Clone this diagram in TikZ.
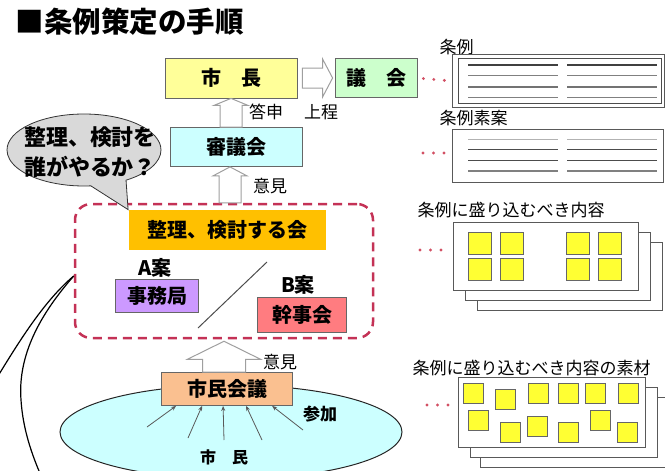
\documentclass[tikz,border=0pt]{standalone}
\usepackage{fontspec}
\setmainfont{Noto Sans CJK JP}
\usetikzlibrary{shapes.geometric, shapes.callouts, arrows.meta, calc}
\definecolor{kiiro}{RGB}{255,255,153}
\definecolor{midori}{RGB}{204,255,204}
\definecolor{mizu}{RGB}{204,255,255}
\definecolor{gold}{RGB}{255,192,0}
\definecolor{murasaki}{RGB}{204,153,255}
\definecolor{momo}{RGB}{255,124,128}
\definecolor{peach}{RGB}{250,192,144}
\definecolor{akaten}{RGB}{196,50,86}
\definecolor{dotred}{RGB}{210,80,100}
\definecolor{fusenyellow}{RGB}{255,255,51}

\newcommand{\blockup}[5]{%
  \draw[hollow] let \p1=(#1), \p2=(#2) in
    (\x2,\y2) -- (\x2+#4,\y2-#5) -- (\x2+#3,\y2-#5) -- (\x2+#3,\y1)
    -- (\x2-#3,\y1) -- (\x2-#3,\y2-#5) -- (\x2-#4,\y2-#5) -- cycle;}

\begin{document}
\begin{tikzpicture}[x=1pt, y=-1pt,
    box/.style={draw=gray!80!black, line width=0.8pt, inner sep=0pt,
                font=\bfseries\fontsize{20}{24}\selectfont},
    small/.style={font=\fontsize{17}{20}\selectfont},
    boldsmall/.style={font=\bfseries\fontsize{17}{20}\selectfont},
    hollow/.style={draw=gray!75, fill=white, line width=1pt},
    doc/.style={draw=gray!70!black, fill=white, line width=0.8pt},
    page/.style={draw=gray!70!black, fill=white, line width=0.8pt},
    fusen/.style={draw=gray!80!black, fill=fusenyellow, line width=0.8pt},
    dots/.style={draw=dotred, line width=3.2pt, line cap=round,
                 dash pattern=on 0pt off 10.5pt},
    citarrow/.style={draw=gray!70!black, line width=0.8pt,
                     -{Stealth[length=5pt,width=4pt]}}]
    \useasboundingbox (0,0) rectangle (665,471);

    % Title
    \node[anchor=west, font=\bfseries\fontsize{28.5}{32}\selectfont] (title) at (12,22) {■条例策定の手順};

    % Citizens
    \node[ellipse, draw=gray!30!black, line width=1pt, fill=mizu,
          minimum width=342pt, minimum height=94pt] (shimin) at (231,432) {};
    \node[boldsmall, font=\bfseries\fontsize{16}{20}\selectfont] (shiminlbl) at (224,457) {市　民};

    % Upper flow
    \node[box, fill=kiiro, minimum width=132pt, minimum height=40pt] (mayor) at (231,78) {市　長};
    \node[box, fill=midori, minimum width=82pt, minimum height=39pt] (gikai) at (376,78) {議　会};
    \node[box, fill=mizu, minimum width=132pt, minimum height=39pt] (shingi) at (236,147) {審議会};

    % Dashed group
    \node[draw=akaten, line width=2.5pt, dash pattern=on 9pt off 6pt, rounded corners=16pt,
          minimum width=298pt, minimum height=134pt] (kentou) at (224,271) {};
    \node[box, draw=none, fill=gold, minimum width=197pt, minimum height=40pt] (seiri) at (227,230) {整理、検討する会};
    \node[box, draw=none, fill=none] (aan) at (155,268) {A案};
    \node[box, fill=murasaki, minimum width=83pt, minimum height=33pt] (jimu) at (157,296) {事務局};
    \node[box, draw=none, fill=none] (ban) at (298,285) {B案};
    \node[box, fill=momo, minimum width=89pt, minimum height=35pt] (kanji) at (302,315) {幹事会};
    \draw[gray!60!black, line width=1pt] (267,262) -- (198,328);

    % Speech bubble
    \node[ellipse callout, draw=gray!40!black, fill=gray!30, line width=0.8pt,
          minimum width=154pt, minimum height=72pt, inner sep=0pt,
          callout absolute pointer={(seiri.north west)}, callout pointer arc=28] (bubble) at (84,150) {};
    \node[align=center, font=\bfseries\fontsize{22}{30}\selectfont] (bubbletxt) at (90,152) {整理、検討を\\誰がやるか？};

    % Citizens' council
    \node[box, fill=peach, minimum width=131pt, minimum height=33pt] (kaigi) at (227,389) {市民会議};
    \foreach \sx/\sy/\ex in {147/427/15, 188/438/41, 224/440/62, 262/440/85, 303/430/111}
        \draw[citarrow] (\sx,\sy) -- ($(kaigi.south west)+(\ex,0)$);
    \node[boldsmall] (sanka) at (320,414) {参加};

    % Hollow arrows
    \blockup{shingi.north}{mayor.south}{11pt}{17pt}{7pt}
    \blockup{kentou.north}{[xshift=-6pt]shingi.south}{11pt}{17pt}{9pt}
    \blockup{kaigi.north}{[yshift=-2pt]kentou.south}{21.5pt}{36.5pt}{18pt}
    \draw[hollow] let \p1=(mayor.east), \p2=(gikai.west) in
        (\x2-2pt,\y1) -- (\x2-12pt,\y1+19pt) -- (\x2-12pt,\y1+10pt) -- (\x1+5pt,\y1+10pt)
        -- (\x1+5pt,\y1-10pt) -- (\x2-12pt,\y1-10pt) -- (\x2-12pt,\y1-19pt) -- cycle;
    \node[small] (toushin) at (266,112) {答申};
    \node[small] (joutei) at (321,112) {上程};
    \node[small] (iken1) at (270,186) {意見};
    \node[small] (iken2) at (280,362) {意見};

    % Black curves
    \coordinate (pin) at ([yshift=-5pt]kentou.west);
    \draw[black, line width=1.2pt] (pin) .. controls (45,300) and (20,340) .. (-2,376);
    \draw[black, line width=1.2pt] (pin) .. controls (35,320) and (18,360) .. (21,400)
        .. controls (23,430) and (32,455) .. (42,478);

    % Ordinance
    \node[small, anchor=west] (joreilbl) at (436,47) {条例};
    \node[doc, minimum width=212pt, minimum height=53pt] (jorei) at (558,81) {};
    \draw[gray!60!black, line width=1pt] ($(jorei.north west)+(7,4)$) rectangle ($(jorei.south east)+(-3,-4)$);
    \foreach \y/\c/\w in {65/black!75/1.4pt, 75/gray/0.8pt, 87/gray!90!black/1.8pt, 97/gray/0.8pt}
        \draw[\c, line width=\w] (468,\y) -- (558,\y) (567,\y) -- (657,\y);
    \draw[dots, shorten <=6pt, shorten >=7pt] (gikai.east) -- (jorei.west);

    % Draft
    \node[small, anchor=west] (soanlbl) at (436,118) {条例素案};
    \node[doc, minimum width=211pt, minimum height=53pt] (soan) at (557.5,156) {};
    \foreach \y/\c/\w in {139/gray!60/0.9pt, 149/black!70/1pt, 160/black!70/1pt, 171/gray/1.5pt}
        \draw[\c, line width=\w] (468,\y) -- (558,\y) (567,\y) -- (657,\y);
    \coordinate (d2) at (423,153);
    \draw[dots, shorten >=7pt] (d2) -- (d2 -| soan.west);

    % Contents
    \node[small, anchor=west] (naiyoulbl) at (414,210) {条例に盛り込むべき内容};
    \node[page, minimum width=185pt, minimum height=68pt] (naiyouC) at (569.5,276) {};
    \node[page, minimum width=185pt, minimum height=68pt] (naiyouB) at (557.5,266) {};
    \node[page, minimum width=185pt, minimum height=68pt] (naiyou) at (545.5,256) {};
    \foreach \x in {468,500,566,598}
        \foreach \y in {232,258}
            \draw[fusen] (\x,\y) rectangle ++(23,22);
    \coordinate (d3) at (420,250);
    \draw[dots, shorten >=8pt] (d3) -- (d3 -| naiyou.west);

    % Materials
    \node[small, anchor=west] (sozailbl) at (409,368) {条例に盛り込むべき内容の素材};
    \node[page, minimum width=187pt, minimum height=70pt] (sozaiC) at (573.5,432) {};
    \node[page, minimum width=187pt, minimum height=70pt] (sozaiB) at (563.5,422) {};
    \node[page, minimum width=187pt, minimum height=70pt] (sozai) at (551.5,412) {};
    \foreach \x/\y in {463/383, 495/389, 528/383, 558/383, 585/383, 618/383,
                       468/410, 500/422, 527/416, 558/422, 590/410, 617/422}
        \draw[fusen] (\x,\y) rectangle ++(20,20);
    \coordinate (d4) at (427,405);
    \draw[dots, shorten >=8pt] (d4) -- (d4 -| sozai.west);
\end{tikzpicture}
\end{document}
